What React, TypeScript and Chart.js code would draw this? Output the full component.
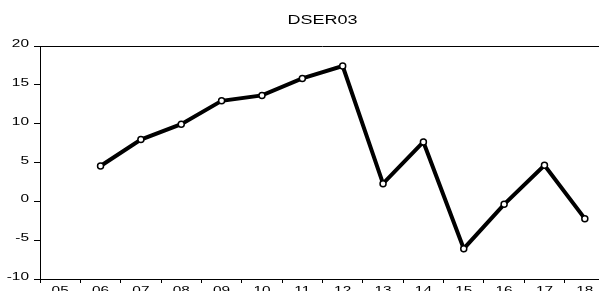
import React, { useEffect, useRef } from 'react';
import { Chart, registerables } from 'chart.js';

Chart.register(...registerables);

const TITLE = 'DSER03';
const CATEGORIES = ['05', '06', '07', '08', '09', '10', '11', '12', '13', '14', '15', '16', '17', '18'];
const VALUES: (number | null)[] = [null, 4.55, 7.96, 9.94, 12.94, 13.64, 15.83, 17.42, 2.28, 7.65, -6.1, -0.39, 4.65, -2.23];
const Y_MIN = -10;
const Y_MAX = 20;
const Y_STEP = 5;

const FONT = '"Liberation Sans", Arial, sans-serif';

function drawStretched(
  ctx: CanvasRenderingContext2D,
  text: string,
  x: number,
  y: number,
  align: CanvasTextAlign,
  size: number,
  sx: number
) {
  ctx.save();
  ctx.font = `${size}px ${FONT}`;
  ctx.textAlign = align;
  ctx.textBaseline = 'middle';
  ctx.fillStyle = '#000';
  ctx.scale(sx, 1);
  ctx.fillText(text, x / sx, y);
  ctx.restore();
}

const textPlugin = {
  id: 'stretchedText',
  afterDraw(chart: any) {
    const ctx: CanvasRenderingContext2D = chart.ctx;
    const area = chart.chartArea;
    const xs = chart.scales.x;
    const ys = chart.scales.y;
    ctx.save();
    ctx.strokeStyle = '#000';
    ctx.lineWidth = 1;
    ctx.beginPath();
    ctx.moveTo(area.left, Math.round(area.top) + 0.5);
    ctx.lineTo(area.right, Math.round(area.top) + 0.5);
    ctx.stroke();
    ctx.restore();

    drawStretched(ctx, TITLE, (area.left + area.right) / 2, 21, 'center', 12, 1.5);
    ys.ticks.forEach((t: any, i: number) => {
      drawStretched(ctx, String(t.label), 29, ys.getPixelForTick(i) - 2, 'right', 11, 1.4);
    });
    xs.ticks.forEach((t: any, i: number) => {
      drawStretched(ctx, String(t.label), xs.getPixelForTick(i), 291, 'center', 11, 1.4);
    });
  },
};

export default function App() {
  const ref = useRef<HTMLCanvasElement>(null);
  useEffect(() => {
    const chart = new Chart(ref.current!, {
      type: 'line',
      data: {
        labels: CATEGORIES,
        datasets: [
          {
            label: TITLE,
            data: VALUES,
            borderColor: '#000',
            borderWidth: 4,
            tension: 0,
            spanGaps: false,
            pointRadius: 3,
            pointBorderWidth: 1.5,
            pointBackgroundColor: '#fff',
            pointBorderColor: '#000',
          },
        ],
      },
      options: {
        animation: false,
        responsive: false,
        devicePixelRatio: 1,
        layout: { autoPadding: false, padding: { top: 46, left: 0, right: 0, bottom: 0 } },
        plugins: { legend: { display: false }, title: { display: false }, tooltip: { enabled: false } },
        scales: {
          x: {
            type: 'category',
            offset: true,
            ticks: { display: false, autoSkip: false },
            grid: { display: true, offset: true, drawOnChartArea: false, drawTicks: true, tickLength: 4, color: '#000' },
            border: { display: true, color: '#000', width: 1 },
            afterFit: (s: any) => {
              s.height = 12;
            },
          },
          y: {
            min: Y_MIN,
            max: Y_MAX,
            ticks: { display: false, stepSize: Y_STEP },
            grid: { display: true, drawOnChartArea: false, drawTicks: true, tickLength: 6, color: '#000' },
            border: { display: true, color: '#000', width: 1 },
            afterFit: (s: any) => {
              s.width = 40;
            },
          },
        },
      },
      plugins: [textPlugin],
    });
    return () => chart.destroy();
  }, []);
  return (
    <div style={{ position: 'fixed', left: 0, top: 0, width: 605, height: 291, background: '#fff' }}>
      <canvas ref={ref} width={605} height={291} style={{ display: 'block' }} />
    </div>
  );
}
